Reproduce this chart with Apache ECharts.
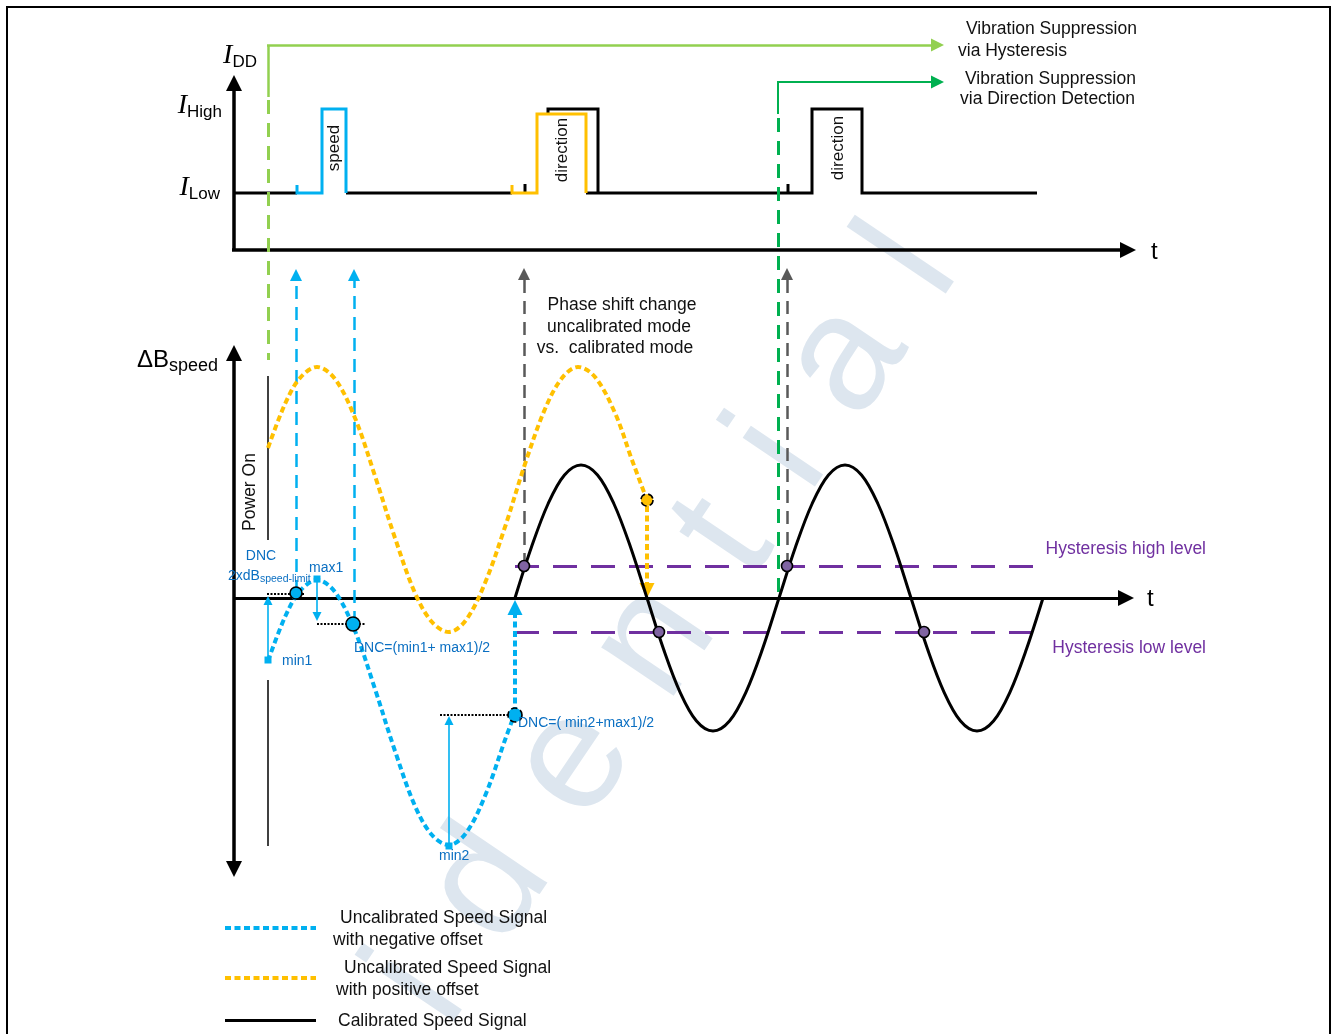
<!DOCTYPE html>
<html><head><meta charset="utf-8">
<script src="https://cdn.jsdelivr.net/npm/echarts@6/dist/echarts.min.js"></script>
<style>html,body{margin:0;padding:0;background:#fff}#c{width:1332px;height:1034px}</style>
</head><body><div id="c"></div>
<script>
// ---- diagram data (diagram units) ----
const orangeCurve=[[268,448],[285,404],[300,378],[317,367],[335,379],[355,418],[375,476],[395,538],[415,593],[432,622],[449,632],[466,620],[485,583],[505,527],[525,464],[545,409],[562,378],[578,367],[595,377],[615,413],[632,460],[647,500]];
const blueCurve=[[268,661],[285,617],[300,591],[317,580],[335,592],[355,631],[375,689],[395,751],[415,806],[432,835],[449,845],[466,833],[485,796],[505,740],[515,713]];
const calibratedCurve=[[515,598],[531.5,547],[548,504],[564.5,475],[581,465],[597.5,475],[614,504],[630.5,547],[647,598],[663.5,649],[680,692],[696.5,721],[713,731],[729.5,721],[746,692],[762.5,649],[779,598],[795.5,547],[812,504],[828.5,475],[845,465],[861.5,475],[878,504],[894.5,547],[911,598],[927.5,649],[944,692],[960.5,721],[977,731],[993.5,721],[1010,692],[1026.5,649],[1043,598]];
const hysteresisLevels=[566,632];
const hysteresisSpan=[515,1045];
const blackCurrent=[
  [[234,193],[297,193]],
  [[346,193],[512,193]],
  [[525,184],[525,193]],
  [[548,114],[548,109],[598,109],[598,193]],
  [[586,193],[812,193],[812,109],[862,109],[862,193],[1037,193]],
  [[788,184],[788,193]]
];
const blueCurrent=[[297,185],[297,193],[322,193],[322,109],[346,109],[346,193]];
const orangeCurrent=[[512,185],[512,193],[537,193],[537,114],[586,114],[586,193]];
const purpleCrossings=[[524,566],[787,566],[659,632],[924,632]];
const extremaPoints=[[268,660],[317,579],[449,846]];
const watermarkLetters=['i','d','e','n','t','i','a','l'];

const BLUE='#00b0f0',ORANGE='#ffc000',PURPLE='#7030a0',TXTBLUE='#0a6fc2',LG='#92d050',DG='#00b050',GRAY='#595959';
const SANS='"Liberation Sans", Arial, sans-serif';
const FS=17.5;

function seg(coords,color,width,dash,sym,size,poly){
  return {type:'lines',coordinateSystem:'cartesian2d',polyline:!!poly,silent:true,z:3,
    symbol:sym||['none','none'],symbolSize:size||10,
    lineStyle:{color:color,width:width,type:dash||'solid',opacity:1,curveness:0},
    data:coords.map(c=>({coords:c}))};
}
function curve(data,color,width,dash){
  return {type:'line',data:data,smooth:0.35,symbol:'none',silent:true,z:3,
    lineStyle:{color:color,width:width,type:dash||'solid'}};
}
function marker(data,color,size,border,btype,shape){
  return {type:'scatter',data:data,symbol:shape||'circle',symbolSize:size,silent:true,z:5,
    itemStyle:{color:color,borderColor:border||'none',borderWidth:border?1.6:0,borderType:btype||'solid',opacity:1}};
}
function txt(text,x,y,opt){
  opt=opt||{};
  return {type:'text',x:x,y:y,rotation:opt.rot||0,z:100,silent:true,
    style:{text:text,font:(opt.size||FS)+'px '+(opt.family||SANS),fill:opt.color||'#111',
      align:opt.align||'left',textAlign:opt.align||'left',verticalAlign:'middle',textVerticalAlign:'middle',rich:opt.rich}};
}
const DOTS=[6,3.5];

const series=[
  seg([[[234,250],[234,83]]],'#000',3.5,'solid',['none','triangle'],16),
  seg([[[232,250],[1128,250]]],'#000',3.5,'solid',['none','triangle'],16),
  seg([[[234,353],[234,869]]],'#000',3.5,'solid',['triangle','triangle'],16),
  seg([[[234,598],[1126,598]]],'#000',3,'solid',['none','triangle'],16),
  seg(blackCurrent,'#000',3,'solid',null,null,true),
  seg([blueCurrent],BLUE,3,'solid',null,null,true),
  seg([orangeCurrent],ORANGE,3,'solid',null,null,true),
  seg([[[268,97],[268,45]]],LG,2.5),
  seg([[[267,45],[937.5,45]]],LG,2.5,'solid',['none','triangle'],13),
  seg([[[268,100],[268,360]]],LG,3,[14,9]),
  seg([[[778,114],[778,82]]],DG,2),
  seg([[[777,82],[937.5,82]]],DG,2,'solid',['none','triangle'],13),
  seg([[[778,118],[778,598]]],DG,3,[14,9]),
  seg([[[268,376],[268,540]],[[268,680],[268,846]]],'#000',1.5),
  seg([[[296,593],[296,275]],[[354,624],[354,275]]],BLUE,2.5,[13,8],['none','triangle'],12),
  seg([[[524,566],[524,274]],[[787,566],[787,274]]],GRAY,2.5,[13,8],['none','triangle'],12),
  seg(hysteresisLevels.map(v=>[[hysteresisSpan[0],v],[hysteresisSpan[1],v]]),PURPLE,3,[24,14]),
  seg([[[267,594],[305,594]],[[317,624],[365,624]],[[440,715],[515,715]]],'#000',2,[2,1.5]),
  seg([[[268,660],[268,600.5]],[[449,846],[449,720.5]]],BLUE,1.6,'solid',['none','triangle'],9),
  seg([[[317,580],[317,616.5]]],BLUE,1.6,'solid',['none','triangle'],9),
  seg([[[647,506],[647,590.5]]],ORANGE,4,DOTS,['none','triangle'],15),
  seg([[[515,713],[515,607.5]]],BLUE,4,DOTS,['none','triangle'],15),
  curve(orangeCurve,ORANGE,4,DOTS),
  curve(blueCurve,BLUE,4,DOTS),
  curve(calibratedCurve,'#000',3),
  seg([[[225,928],[316,928]]],BLUE,4,DOTS),
  seg([[[225,978],[316,978]]],ORANGE,4,DOTS),
  seg([[[225,1020],[316,1020]]],'#000',3),
  marker(purpleCrossings,'#8064a2',11,'#000'),
  marker([[296,593]],BLUE,12,'#000'),
  marker([[353,624]],BLUE,14,'#000'),
  marker([[515,715]],BLUE,14,'#000','dashed'),
  marker([[647,500]],ORANGE,12,'#000','dashed'),
  marker(extremaPoints,BLUE,7,null,null,'rect')
];

const subRich=(bigFont,bigSize,smallSize,color,italic)=>({
  b:{fontFamily:bigFont,fontSize:bigSize,fontStyle:italic?'italic':'normal',lineHeight:30,verticalAlign:'middle',fill:color},
  s:{fontFamily:SANS,fontSize:smallSize,lineHeight:smallSize+1,verticalAlign:'bottom',fill:color}
});

// watermark: letters placed along a diagonal
const wmStart=[420,990],wmEnd=[912,262],wmDist=[0,125,275,420,545,645,760,878];
const wmLen=Math.hypot(wmEnd[0]-wmStart[0],wmEnd[1]-wmStart[1]);
const wmAngle=Math.atan2(wmStart[1]-wmEnd[1],wmEnd[0]-wmStart[0]);
const watermark=watermarkLetters.map((ch,i)=>{
  const f=wmDist[i]/878;
  return {type:'text',z:0,silent:true,rotation:wmAngle,
    x:wmStart[0]+f*(wmEnd[0]-wmStart[0]),y:wmStart[1]+f*(wmEnd[1]-wmStart[1]),
    style:{text:ch,font:'165px '+SANS,fill:'#dde6ef',align:'center',textAlign:'center',verticalAlign:'middle',textVerticalAlign:'middle'}};
});

const graphic=watermark.concat([
  {type:'rect',z:100,silent:true,shape:{x:7,y:7,width:1323,height:1045},style:{fill:'none',stroke:'#000',lineWidth:2}},
  txt('{b|I}{s|DD}',257,56,{align:'right',rich:subRich('"Liberation Serif", serif',28,17,'#000',true)}),
  txt('{b|I}{s|High}',222,106,{align:'right',rich:subRich('"Liberation Serif", serif',28,17,'#000',true)}),
  txt('{b|I}{s|Low}',220,188,{align:'right',rich:subRich('"Liberation Serif", serif',28,17,'#000',true)}),
  txt('{b|ΔB}{s|speed}',137,360,{rich:subRich(SANS,24,18,'#000',false)}),
  txt('t',1151,252,{size:24,color:'#000'}),
  txt('t',1147,599,{size:24,color:'#000'}),
  txt('speed',334,148,{rot:Math.PI/2,align:'center',size:17}),
  txt('direction',562,150,{rot:Math.PI/2,align:'center',size:17}),
  txt('direction',838,148,{rot:Math.PI/2,align:'center',size:17}),
  txt('Vibration Suppression',966,29),
  txt('via Hysteresis',958,51),
  txt('Vibration Suppression',965,79),
  txt('via Direction Detection',960,99),
  txt('Phase shift change',622,305,{align:'center'}),
  txt('uncalibrated mode',619,327,{align:'center'}),
  txt('vs.  calibrated mode',615,348,{align:'center'}),
  txt('Power On',250,492,{rot:Math.PI/2,align:'center',size:17.5}),
  txt('Hysteresis high level',1206,549,{align:'right',color:PURPLE}),
  txt('Hysteresis low level',1206,648,{align:'right',color:PURPLE}),
  txt('DNC',261,556,{size:14,color:TXTBLUE,align:'center'}),
  txt('{b|2xdB}{s|speed-limit}',228,576,{rich:{
    b:{fontFamily:SANS,fontSize:14,lineHeight:18,verticalAlign:'middle',fill:TXTBLUE},
    s:{fontFamily:SANS,fontSize:10.5,lineHeight:11,verticalAlign:'bottom',fill:TXTBLUE}}}),
  txt('max1',309,568,{size:14,color:TXTBLUE}),
  txt('min1',282,661,{size:14,color:TXTBLUE}),
  txt('DNC=(min1+ max1)/2',354,648,{size:14,color:TXTBLUE}),
  txt('DNC=( min2+max1)/2',518,723,{size:14,color:TXTBLUE}),
  txt('min2',439,856,{size:14,color:TXTBLUE}),
  txt('Uncalibrated Speed Signal',340,918),
  txt('with negative offset',333,940),
  txt('Uncalibrated Speed Signal',344,968),
  txt('with positive offset',336,990),
  txt('Calibrated Speed Signal',338,1021)
]);

const chart=echarts.init(document.getElementById('c'));
chart.setOption({
  animation:false,
  backgroundColor:'#fff',
  grid:{left:0,right:0,top:0,bottom:0,containLabel:false},
  xAxis:{type:'value',min:0,max:1332,show:false},
  yAxis:{type:'value',min:0,max:1034,inverse:true,show:false},
  graphic:graphic,
  series:series
});
</script></body></html>
